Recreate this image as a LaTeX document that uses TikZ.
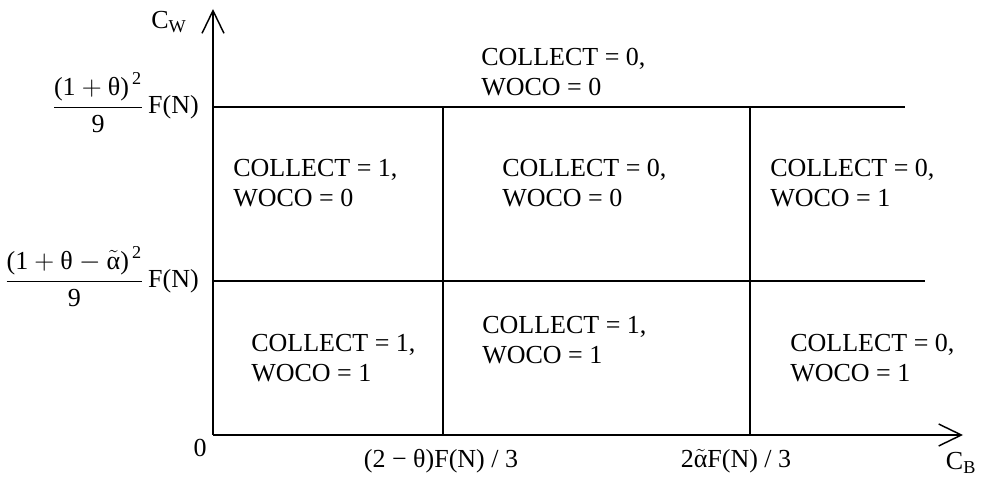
\documentclass[tikz,border=0pt]{standalone}
\usepackage{amsmath}
\usepackage{fontspec}
\setmainfont{Liberation Serif}
\usetikzlibrary{arrows.meta}

\begin{document}
\begin{tikzpicture}[x=0.75pt, y=-0.75pt,
  font=\fontsize{19.5}{22.5}\selectfont,
  axis/.style={line width=1.1pt, -{Straight Barb[length=17pt, width=16.5pt, line width=1.1pt]}},
  border/.style={line width=1.1pt},
  region/.style={anchor=west, align=left, inner sep=0pt},
  lbl/.style={inner sep=0pt}]
  \useasboundingbox (0,0) rectangle (986,477);

  % axes
  \coordinate (O) at (213,435);
  \coordinate (ytip) at (213,9);
  \coordinate (xtip) at (963,435);
  \draw[axis] (O) -- (ytip);
  \draw[axis] (O) -- (xtip);

  % thresholds
  \coordinate (h1a) at (213,107);
  \coordinate (h1b) at (905,107);
  \coordinate (h2a) at (213,281);
  \coordinate (h2b) at (925,281);
  \coordinate (v1a) at (443,107);
  \coordinate (v1b) at (443,435);
  \coordinate (v2a) at (750,107);
  \coordinate (v2b) at (750,435);
  \draw[border] (h1a) -- (h1b);
  \draw[border] (h2a) -- (h2b);
  \draw[border] (v1a) -- (v1b);
  \draw[border] (v2a) -- (v2b);

  % axis labels
  \node[lbl] (cw) at (169,22) {C$_\text{W}$};
  \node[lbl] (cb) at (961,463) {C$_\text{B}$};
  \node[lbl] (zero) at (200,448) {0};
  \node[lbl] (xa) at (441,461) {(2 − θ)F(N) / 3};
  \node[lbl] (xb) at (736,461) {2$\tilde{\text{α}}$F(N) / 3};
  \node[lbl, anchor=base east] (ya) at (199,114)
    {$\dfrac{\text{(1}+\text{θ)}^{\,\text{2}}}{\text{9}}\,$F(N)};
  \node[lbl, anchor=base east] (yb) at (199,288)
    {$\dfrac{\text{(1}+\text{θ}-\tilde{\text{α}}\text{)}^{\,\text{2}}}{\text{9}}\,$F(N)};

  % regions
  \node[region] (top) at (481,72) {COLLECT = 0,\\WOCO = 0};
  \node[region] (r11) at (233,183) {COLLECT = 1,\\WOCO = 0};
  \node[region] (r12) at (502,183) {COLLECT = 0,\\WOCO = 0};
  \node[region] (r13) at (770,183) {COLLECT = 0,\\WOCO = 1};
  \node[region] (r21) at (251,358) {COLLECT = 1,\\WOCO = 1};
  \node[region] (r22) at (482,340) {COLLECT = 1,\\WOCO = 1};
  \node[region] (r23) at (790,358) {COLLECT = 0,\\WOCO = 1};
\end{tikzpicture}
\end{document}
